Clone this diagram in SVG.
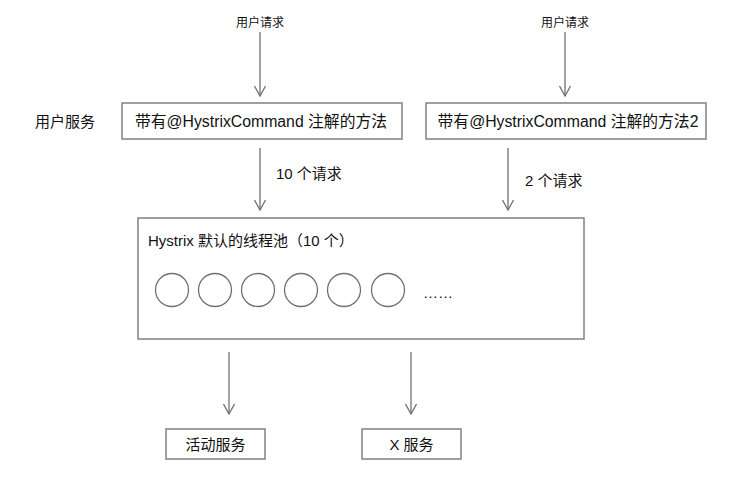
<svg xmlns="http://www.w3.org/2000/svg" width="738" height="479" viewBox="0 0 738 479">
<style>
  .box { fill: #ffffff; stroke: #808080; stroke-width: 1.5; }
  .circ { fill: #ffffff; stroke: #707070; stroke-width: 1.3; }
  .ln { stroke: #707070; stroke-width: 1.3; fill: none; }
  .t { font-family: "Liberation Sans", "Noto Sans CJK SC", sans-serif; fill: #111111; }
  .s12 { font-size: 12px; }
  .s14 { font-size: 15px; }
  .s15 { font-size: 15.8px; }
</style>
<defs>
  <marker id="arr" viewBox="0 0 12 12" refX="11" refY="6" markerWidth="12" markerHeight="12" markerUnits="userSpaceOnUse" orient="auto">
    <path d="M1,0.5 L11,6 L1,11.5" fill="none" stroke="#707070" stroke-width="1.3"/>
  </marker>
</defs>
<rect width="738" height="479" fill="#ffffff"/>
<g id="connectors">
  <line class="ln" x1="260" y1="32" x2="260" y2="96" marker-end="url(#arr)"/>
  <line class="ln" x1="565" y1="32" x2="565" y2="96" marker-end="url(#arr)"/>
  <line class="ln" x1="260" y1="148" x2="260" y2="210" marker-end="url(#arr)"/>
  <line class="ln" x1="508" y1="148" x2="508" y2="210" marker-end="url(#arr)"/>
  <line class="ln" x1="229" y1="352" x2="229" y2="414" marker-end="url(#arr)"/>
  <line class="ln" x1="411" y1="352" x2="411" y2="414" marker-end="url(#arr)"/>
  <text class="t s14" x="276" y="179">10 个请求</text>
  <text class="t s14" x="525" y="186">2 个请求</text>
</g>
<g id="req1"><text class="t s12" x="260" y="27" text-anchor="middle">用户请求</text></g>
<g id="req2"><text class="t s12" x="565" y="27" text-anchor="middle">用户请求</text></g>
<g id="userService"><text class="t s14" x="35" y="127">用户服务</text></g>
<g id="method1">
  <rect class="box" x="122" y="103" width="280" height="36"/>
  <text class="t s15" x="261" y="127" text-anchor="middle">带有@HystrixCommand 注解的方法</text>
</g>
<g id="method2">
  <rect class="box" x="426" y="103" width="280" height="36"/>
  <text class="t s15" x="568" y="127" text-anchor="middle">带有@HystrixCommand 注解的方法2</text>
</g>
<g id="pool">
  <rect class="box" x="138" y="218" width="446" height="121"/>
  <text class="t s14" x="148" y="246">Hystrix 默认的线程池（10 个）</text>
  <circle class="circ" cx="172" cy="290" r="16.5"/>
  <circle class="circ" cx="215" cy="290" r="16.5"/>
  <circle class="circ" cx="258" cy="290" r="16.5"/>
  <circle class="circ" cx="301" cy="290" r="16.5"/>
  <circle class="circ" cx="344" cy="290" r="16.5"/>
  <circle class="circ" cx="388" cy="290" r="16.5"/>
  <text class="t s14" x="423" y="298">……</text>
</g>
<g id="activity">
  <rect class="box" x="166" y="429" width="99" height="30"/>
  <text class="t s14" x="215.5" y="450" text-anchor="middle">活动服务</text>
</g>
<g id="xservice">
  <rect class="box" x="362" y="429" width="99" height="30"/>
  <text class="t s14" x="411.5" y="450" text-anchor="middle">X 服务</text>
</g>
</svg>
